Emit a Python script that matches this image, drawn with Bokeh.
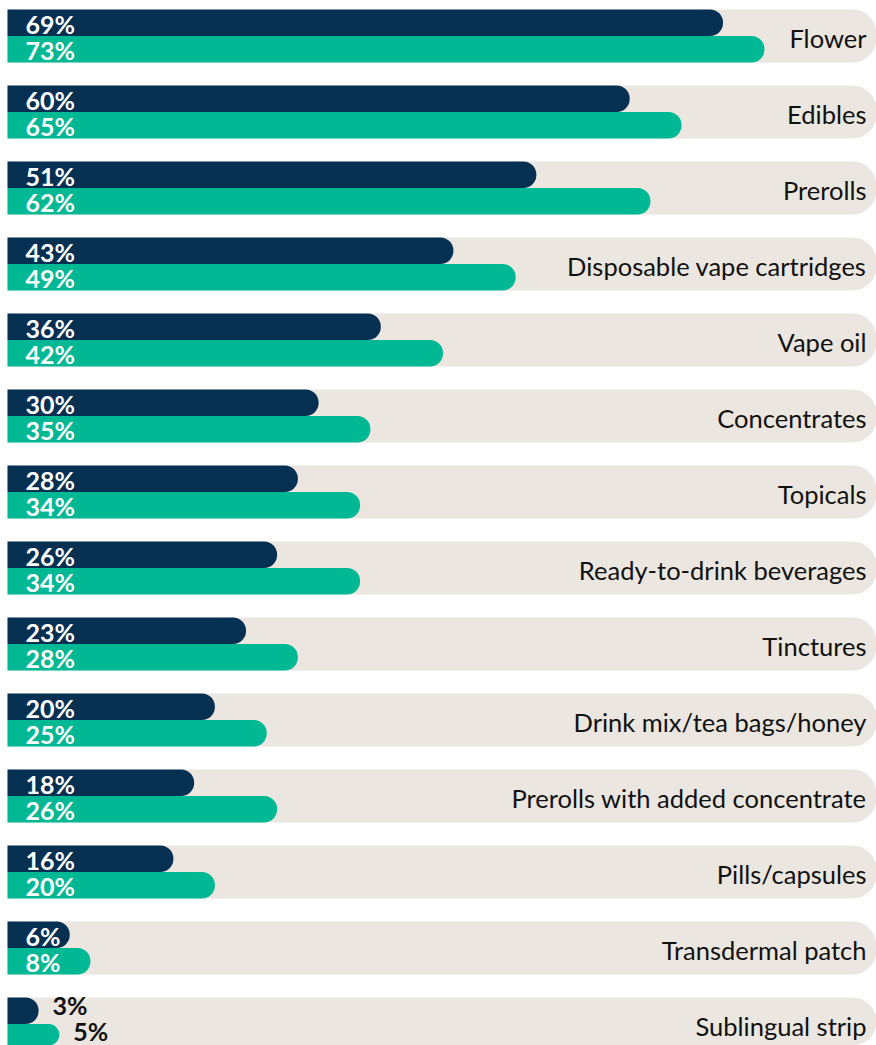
from bokeh.plotting import figure
from bokeh.models import Range1d, ColumnDataSource
from bokeh.core.properties import value
from bokeh.embed import file_html
from bokeh.resources import INLINE

categories = ["Flower", "Edibles", "Prerolls", "Disposable vape cartridges", "Vape oil",
              "Concentrates", "Topicals", "Ready-to-drink beverages", "Tinctures",
              "Drink mix/tea bags/honey", "Prerolls with added concentrate",
              "Pills/capsules", "Transdermal patch", "Sublingual strip"]
series_a = [69, 60, 51, 43, 36, 30, 28, 26, 23, 20, 18, 16, 6, 3]
series_b = [73, 65, 62, 49, 42, 35, 34, 34, 28, 25, 26, 20, 8, 5]

NAVY = "#053052"
TEAL = "#00b894"
PILL = "#ebe6e0"

W, H = 876, 1045
PX_PER_PCT = 10.37
PX_PER_ROW = 76.0
x_start = -7.0 / PX_PER_PCT
x_end = x_start + W / PX_PER_PCT
y_top = -35.5 / PX_PER_ROW
y_bottom = y_top + H / PX_PER_ROW

p = figure(width=W, height=H, output_backend="svg", toolbar_location=None,
           x_range=Range1d(x_start, x_end), y_range=Range1d(y_bottom, y_top),
           min_border=0, outline_line_color=None, background_fill_color="white",
           border_fill_color="white")
p.xaxis.visible = False
p.yaxis.visible = False
p.grid.visible = False

n = len(categories)
rows = list(range(n))
off = 13.25 / PX_PER_ROW
bh = 26.5 / PX_PER_ROW

src = ColumnDataSource(dict(
    y=rows,
    ya=[r - off for r in rows],
    yb=[r + off for r in rows],
    a=series_a,
    b=series_b,
    cat=categories,
    right=[x_end] * n,
))

p.hbar(y="y", left=0, right="right", height=53 / PX_PER_ROW, source=src,
       fill_color=PILL, line_color=None, border_radius=(0, 24, 24, 0))
p.hbar(y="yb", left=0, right="b", height=bh, source=src,
       fill_color=TEAL, line_color=None, border_radius=(0, 13, 13, 0))
p.hbar(y="ya", left=0, right="a", height=bh, source=src,
       fill_color=NAVY, line_color=None, border_radius=(0, 13, 13, 0))

# percent labels: inside (white) when bar is long enough, outside (black) otherwise
THRESH = 5
def label_src(vals, ys):
    ins = [(v, y) for v, y in zip(vals, ys) if v > THRESH]
    outs = [(v, y) for v, y in zip(vals, ys) if v <= THRESH]
    s_in = ColumnDataSource(dict(x=[0] * len(ins), y=[y for _, y in ins],
                                 t=[f"{v}%" for v, _ in ins]))
    s_out = ColumnDataSource(dict(x=[v for v, _ in outs], y=[y for _, y in outs],
                                  t=[f"{v}%" for v, _ in outs]))
    return s_in, s_out

for vals, ys in ((series_a, src.data["ya"]), (series_b, src.data["yb"])):
    s_in, s_out = label_src(vals, ys)
    p.text(x="x", y="y", text="t", source=s_in, x_offset=18, y_offset=1,
           text_color="white", text_font=value("Lato"), text_font_style="bold",
           text_font_size="25px", text_baseline="middle", text_align="left")
    p.text(x="x", y="y", text="t", source=s_out, x_offset=14, y_offset=-6,
           text_color="#111111", text_font=value("Lato"), text_font_style="bold",
           text_font_size="25px", text_baseline="middle", text_align="left")

p.text(x="right", y="y", text="cat", source=src, x_offset=-10, y_offset=2,
       text_color="#111111", text_font=value("Lato"), text_font_size="25.5px",
       text_baseline="middle", text_align="right")

open("out.html", "w").write(file_html(p, INLINE))
